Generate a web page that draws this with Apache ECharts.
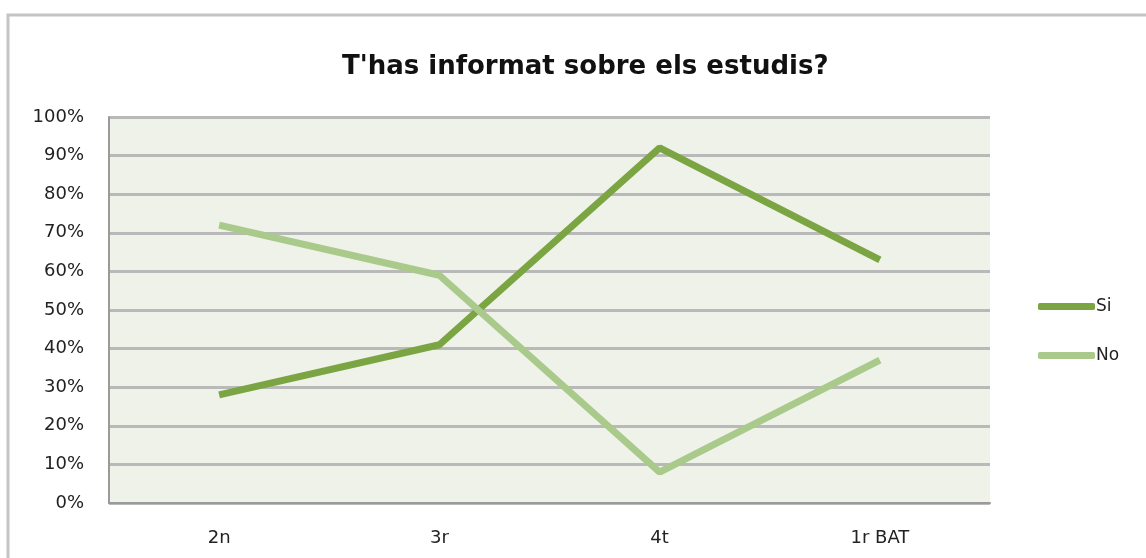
<!DOCTYPE html>
<html>
<head>
<meta charset="utf-8">
<script src="https://cdn.jsdelivr.net/npm/echarts@6/dist/echarts.min.js"></script>
<style>
  html, body { margin: 0; padding: 0; background: #fff; }
  #chart { width: 1146px; height: 558px; }
</style>
</head>
<body>
<div id="chart"></div>
<script>
// dades llegides del gràfic
const categories = ['2n', '3r', '4t', '1r BAT']
const siValues = [28, 41, 92, 63]
const noValues = [72, 59, 8, 37]
const yTicks = [0, 10, 20, 30, 40, 50, 60, 70, 80, 90, 100]

const fontFamily = '"DejaVu Sans", "Open Sans", sans-serif'

const chart = echarts.init(document.getElementById('chart'))

chart.setOption({
  animation: false,
  backgroundColor: '#fff',
  graphic: [
    {
      type: 'rect',
      shape: { x: 8, y: 15, width: 1150, height: 560 },
      style: { fill: 'none', stroke: '#c4c4c4', lineWidth: 3 },
      z: -1,
    },
  ],
  title: {
    text: "T'has informat sobre els estudis?",
    left: 337,
    top: 49,
    textStyle: {
      fontFamily: fontFamily,
      fontSize: 26,
      fontWeight: 'bold',
      color: '#111',
    },
  },
  legend: {
    orient: 'vertical',
    left: 1033,
    top: 293,
    itemWidth: 57,
    itemHeight: 7,
    itemGap: 32,
    icon: 'roundRect',
    textStyle: { fontFamily: fontFamily, fontSize: 17, color: '#222', padding: [0, 0, 0, -4] },
    data: ['Si', 'No'],
  },
  grid: {
    left: 109,
    top: 117,
    right: 156,
    bottom: 55,
    backgroundColor: '#eff2e9',
    show: true,
    borderWidth: 0,
  },
  xAxis: {
    type: 'category',
    data: categories,
    boundaryGap: true,
    axisLine: { lineStyle: { color: '#9a9a9a', width: 2 } },
    axisTick: { show: false },
    axisLabel: { margin: 26, fontFamily: fontFamily, fontSize: 18, color: '#222' },
  },
  yAxis: {
    type: 'value',
    min: yTicks[0],
    max: yTicks[yTicks.length - 1],
    interval: 10,
    axisLine: { show: true, lineStyle: { color: '#9a9a9a', width: 2 } },
    axisTick: { show: false },
    axisLabel: { margin: 25, formatter: '{value}%', fontFamily: fontFamily, fontSize: 18, color: '#222' },
    splitLine: { lineStyle: { color: '#b9b9b9', width: 3 } },
  },
  series: [
    {
      name: 'Si',
      type: 'line',
      data: siValues,
      symbol: 'none',
      itemStyle: { color: '#7ba542' },
      lineStyle: { color: '#7ba542', width: 7 },
    },
    {
      name: 'No',
      type: 'line',
      data: noValues,
      symbol: 'none',
      itemStyle: { color: '#a9ca8a' },
      lineStyle: { color: '#a9ca8a', width: 7 },
    },
  ],
})
</script>
</body>
</html>
